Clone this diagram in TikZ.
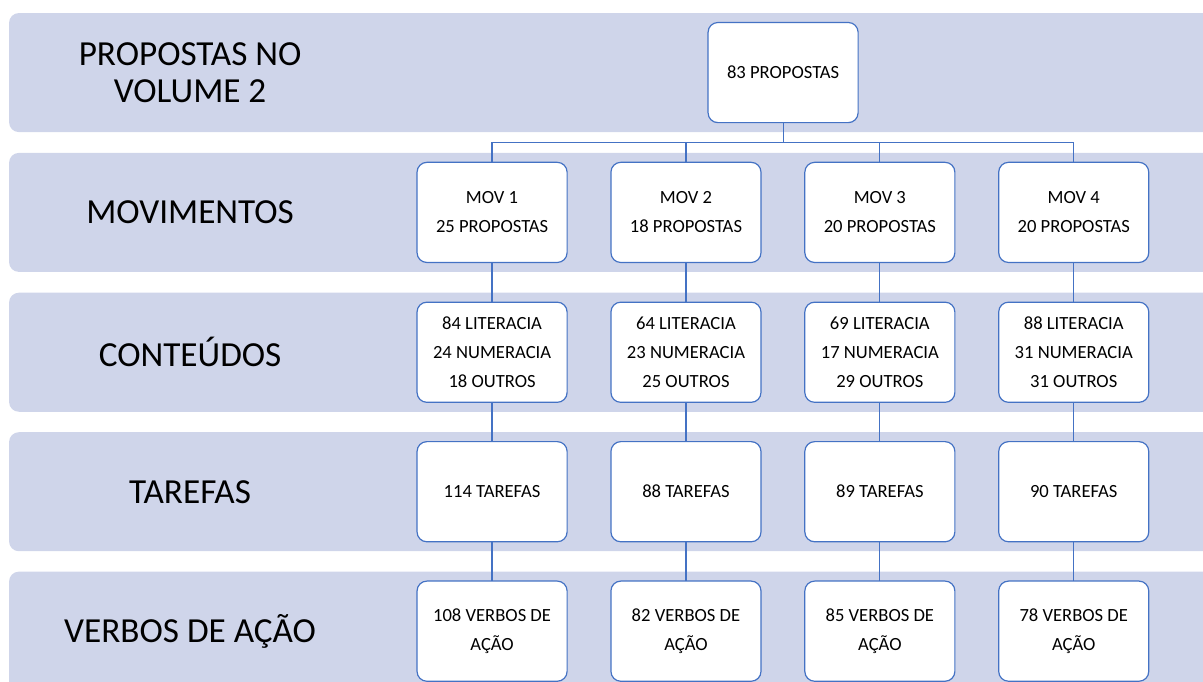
\documentclass[tikz,border=0pt]{standalone}
\usepackage{fontspec}
\setmainfont{Carlito}
\usetikzlibrary{positioning}

\definecolor{bandfill}{HTML}{CFD5EA}
\definecolor{boxline}{HTML}{4472C4}

\begin{document}
\begin{tikzpicture}
[box/.style={draw=boxline,fill=white,line width=0.9pt,rounded corners=2.6mm,align=center,
  minimum width=39.7mm,minimum height=26.5mm,inner sep=0mm,outer sep=0mm,
  font=\fontsize{14}{21.75}\selectfont},
 band/.style={fill=bandfill,rounded corners=2.6mm,minimum width=324.8mm,minimum height=31.5mm,
  inner sep=0mm,outer sep=0mm},
 lbl/.style={align=center,inner sep=0mm,font=\fontsize{26.5}{28}\selectfont},
 link/.style={draw=boxline,line width=0.9pt}]

\useasboundingbox (-207.2mm,19.2mm) rectangle (111.1mm,-161mm);
\clip (-207.2mm,19.2mm) rectangle (111.1mm,-161mm);

% faixas
\node[band] (Bprop) at (-42.4mm,0)                 {};
\node[band] (Bmov)  [on grid,below=37mm of Bprop]  {};
\node[band] (Bcont) [on grid,below=37mm of Bmov]   {};
\node[band] (Btar)  [on grid,below=36.9mm of Bcont] {};
\node[band] (Bverb) [on grid,below=36.9mm of Btar]  {};

% rotulos
\node[lbl] (Lprop) at (-156.9mm,0)                {PROPOSTAS NO\\VOLUME 2};
\node[lbl] (Lmov)  [on grid,below=37mm of Lprop]  {MOVIMENTOS};
\node[lbl] (Lcont) [on grid,below=37mm of Lmov]   {CONTEÚDOS};
\node[lbl] (Ltar)  [on grid,below=36.9mm of Lcont] {TAREFAS};
\node[lbl] (Lverb) [on grid,below=36.9mm of Ltar]  {VERBOS DE AÇÃO};

% propostas
\node[box] (P) at (0,0) {83 PROPOSTAS};

% movimentos
\node[box] (M1) [on grid,below left=37mm and 77mm of P] {MOV 1\\25 PROPOSTAS};
\node[box] (M2) [on grid,right=51.3mm of M1]            {MOV 2\\18 PROPOSTAS};
\node[box] (M3) [on grid,right=51.3mm of M2]            {MOV 3\\20 PROPOSTAS};
\node[box] (M4) [on grid,right=51.3mm of M3]            {MOV 4\\20 PROPOSTAS};

% conteudos
\node[box] (C1) [on grid,below=37mm of M1] {84 LITERACIA\\24 NUMERACIA\\18 OUTROS};
\node[box] (C2) [on grid,below=37mm of M2] {64 LITERACIA\\23 NUMERACIA\\25 OUTROS};
\node[box] (C3) [on grid,below=37mm of M3] {69 LITERACIA\\17 NUMERACIA\\29 OUTROS};
\node[box] (C4) [on grid,below=37mm of M4] {88 LITERACIA\\31 NUMERACIA\\31 OUTROS};

% tarefas
\node[box] (T1) [on grid,below=36.9mm of C1] {114 TAREFAS};
\node[box] (T2) [on grid,below=36.9mm of C2] {88 TAREFAS};
\node[box] (T3) [on grid,below=36.9mm of C3] {89 TAREFAS};
\node[box] (T4) [on grid,below=36.9mm of C4] {90 TAREFAS};

% verbos
\node[box] (V1) [on grid,below=36.9mm of T1] {108 VERBOS DE\\AÇÃO};
\node[box] (V2) [on grid,below=36.9mm of T2] {82 VERBOS DE\\AÇÃO};
\node[box] (V3) [on grid,below=36.9mm of T3] {85 VERBOS DE\\AÇÃO};
\node[box] (V4) [on grid,below=36.9mm of T4] {78 VERBOS DE\\AÇÃO};

\coordinate (J) at (0,-18.5mm);

\path[link] (P.south) edge (J);
\draw[link] (J) -| (M1.north);
\draw[link] (J) -| (M2.north);
\draw[link] (J) -| (M3.north);
\draw[link] (J) -| (M4.north);

\path[link] (M1) edge (C1);
\path[link] (M2) edge (C2);
\path[link] (M3) edge (C3);
\path[link] (M4) edge (C4);

\path[link] (C1) edge (T1);
\path[link] (C2) edge (T2);
\path[link] (C3) edge (T3);
\path[link] (C4) edge (T4);

\path[link] (T1) edge (V1);
\path[link] (T2) edge (V2);
\path[link] (T3) edge (V3);
\path[link] (T4) edge (V4);

\end{tikzpicture}
\end{document}
